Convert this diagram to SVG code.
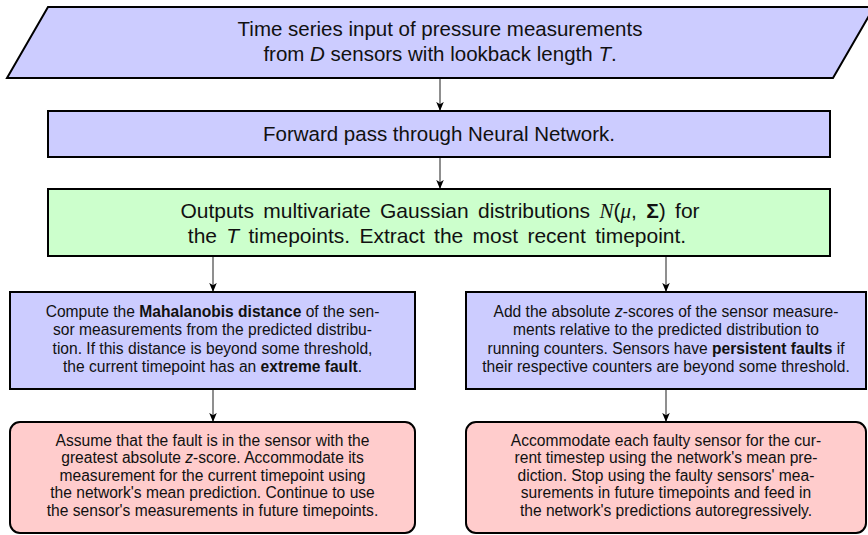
<svg xmlns="http://www.w3.org/2000/svg" width="868" height="535" viewBox="0 0 868 535">
<defs>
<style>
.blue{fill:#ccccff;stroke:#000;stroke-width:2}
.green{fill:#ccffcc;stroke:#000;stroke-width:2}
.red{fill:#ffcccc;stroke:#000;stroke-width:2}
.big{font-family:"Liberation Sans",Arial,sans-serif;font-size:20.5px;fill:#111;text-anchor:middle}
.gr{font-size:21px;word-spacing:3.5px}
.sm{font-family:"Liberation Sans",Arial,sans-serif;font-size:15.6px;fill:#111;text-anchor:middle}
.it{font-style:italic}
.b{font-weight:bold}
.m{font-family:"Liberation Serif","Times New Roman",serif;font-style:italic}
.conn{stroke:#333;stroke-width:1.1;fill:none;marker-end:url(#arr)}
</style>
<marker id="arr" viewBox="0 0 10 10" refX="9" refY="5" markerWidth="9" markerHeight="9" markerUnits="userSpaceOnUse" orient="auto">
<path d="M0,0.8 L10,5 L0,9.2 L2.5,5 Z" fill="#000"/>
</marker>
</defs>
<g id="connectors">
<line class="conn" x1="440" y1="78" x2="440" y2="110"/>
<line class="conn" x1="440" y1="157" x2="440" y2="188"/>
<line class="conn" x1="213" y1="256" x2="213" y2="291"/>
<line class="conn" x1="666" y1="256" x2="666" y2="291"/>
<line class="conn" x1="213" y1="389" x2="213" y2="421"/>
<line class="conn" x1="666" y1="389" x2="666" y2="421"/>
</g>
<g id="input">
<polygon class="blue" points="48,7 874,7 833,78 7,78"/>
<text class="big" x="440" y="36">Time series input of pressure measurements</text>
<text class="big" x="440" y="61">from <tspan class="it">D</tspan> sensors with lookback length <tspan class="it">T</tspan>.</text>
</g>
<g id="forward">
<rect class="blue" x="48" y="111" width="782" height="46"/>
<text class="big" x="439" y="141">Forward pass through Neural Network.</text>
</g>
<g id="outputs">
<rect class="green" x="48" y="189" width="782" height="67"/>
<text class="big gr" x="440" y="218">Outputs multivariate Gaussian distributions <tspan class="m">N</tspan>(<tspan class="m">μ</tspan>, <tspan class="b">Σ</tspan>) for</text>
<text class="big gr" x="437" y="243">the <tspan class="it">T</tspan> timepoints. Extract the most recent timepoint.</text>
</g>
<g id="mahalanobis">
<rect class="blue" x="10" y="292" width="405" height="97"/>
<text class="sm" x="212.5" y="317">Compute the <tspan class="b">Mahalanobis distance</tspan> of the sen-</text>
<text class="sm" x="212.5" y="335.3">sor measurements from the predicted distribu-</text>
<text class="sm" x="212.5" y="353.6">tion. If this distance is beyond some threshold,</text>
<text class="sm" x="212.5" y="372">the current timepoint has an <tspan class="b">extreme fault</tspan>.</text>
</g>
<g id="zscores">
<rect class="blue" x="466" y="292" width="400" height="97"/>
<text class="sm" x="666" y="317">Add the absolute <tspan class="it">z</tspan>-scores of the sensor measure-</text>
<text class="sm" x="666" y="335.3">ments relative to the predicted distribution to</text>
<text class="sm" x="666" y="353.6">running counters. Sensors have <tspan class="b">persistent faults</tspan> if</text>
<text class="sm" x="666" y="372">their respective counters are beyond some threshold.</text>
</g>
<g id="extreme">
<rect class="red" x="10" y="422" width="405" height="111" rx="10" ry="10"/>
<text class="sm" x="212.5" y="445.5">Assume that the fault is in the sensor with the</text>
<text class="sm" x="212.5" y="463">greatest absolute <tspan class="it">z</tspan>-score. Accommodate its</text>
<text class="sm" x="212.5" y="480.5">measurement for the current timepoint using</text>
<text class="sm" x="212.5" y="498">the network's mean prediction. Continue to use</text>
<text class="sm" x="212.5" y="515.5">the sensor's measurements in future timepoints.</text>
</g>
<g id="persistent">
<rect class="red" x="466" y="422" width="400" height="111" rx="10" ry="10"/>
<text class="sm" x="666" y="445.5">Accommodate each faulty sensor for the cur-</text>
<text class="sm" x="666" y="463">rent timestep using the network's mean pre-</text>
<text class="sm" x="666" y="480.5">diction. Stop using the faulty sensors' mea-</text>
<text class="sm" x="666" y="498">surements in future timepoints and feed in</text>
<text class="sm" x="666" y="515.5">the network's predictions autoregressively.</text>
</g>
</svg>
